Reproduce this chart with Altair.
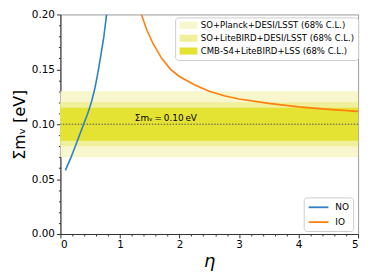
import altair as alt
import pandas as pd

# ---- data ----
no_eta = [0.083, 0.18, 0.25, 0.32, 0.39, 0.46, 0.52, 0.58, 0.63, 0.68, 0.73, 0.776]
no_sum = [0.058, 0.070, 0.080, 0.090, 0.100, 0.110, 0.120, 0.133, 0.147, 0.163, 0.180, 0.200]

io_eta = [1.36, 1.45, 1.55, 1.70, 1.85, 2.00, 2.25, 2.50, 2.75, 3.00, 3.50, 4.00, 4.50, 5.00]
io_sum = [0.200, 0.186, 0.174, 0.160, 0.150, 0.1435, 0.136, 0.130, 0.126, 0.123, 0.119, 0.1158, 0.1135, 0.1117]

band_labels = ["SO+Planck+DESI/LSST (68% C.L.)",
               "SO+LiteBIRD+DESI/LSST (68% C.L.)",
               "CMB-S4+LiteBIRD+LSS (68% C.L.)"]
band_lo = [0.07, 0.08, 0.085]
band_hi = [0.13, 0.12, 0.115]
band_colors = ["#f7f6cc", "#f0ef9a", "#e4e232"]

series_names = ["NO", "IO"]
series_colors = ["#2f80c4", "#ff7f0e"]

ref_sum = [0.10]
ref_label = ["Σmᵥ\u2009=\u20090.10\u2009eV"]
ref_label_eta = [1.25]

x_major = [0, 1, 2, 3, 4, 5]
x_minor = [0.2, 0.4, 0.6, 0.8, 1.2, 1.4, 1.6, 1.8, 2.2, 2.4, 2.6, 2.8,
           3.2, 3.4, 3.6, 3.8, 4.2, 4.4, 4.6, 4.8]
y_major = [0.0, 0.05, 0.10, 0.15, 0.20]
y_minor = [0.01, 0.02, 0.03, 0.04, 0.06, 0.07, 0.08, 0.09,
           0.11, 0.12, 0.13, 0.14, 0.16, 0.17, 0.18, 0.19]

# ---- tables ----
lines_df = pd.concat([
    pd.DataFrame({"eta": no_eta, "sum": no_sum, "series": "NO"}),
    pd.DataFrame({"eta": io_eta, "sum": io_sum, "series": "IO"}),
])
bands_df = pd.DataFrame({"label": band_labels, "lo": band_lo, "hi": band_hi})
ref_df = pd.DataFrame({"y": ref_sum, "x": ref_label_eta, "t": ref_label})

xs = alt.Scale(domain=[0, 5], nice=False, zero=False)
ys = alt.Scale(domain=[0, 0.2], nice=False, zero=False)

rects = alt.Chart(bands_df).mark_rect().encode(
    x=alt.XDatum(0, scale=xs, axis=None),
    x2=alt.X2Datum(5),
    y=alt.Y("lo:Q", scale=ys, axis=None),
    y2="hi:Q",
    fill=alt.Fill("label:N",
                  scale=alt.Scale(domain=band_labels, range=band_colors),
                  legend=alt.Legend(title=None, orient="none", legendX=116, legendY=3,
                                    symbolType="M-2,-0.8H2V0.8H-2Z", symbolSize=81,
                                    symbolOffset=5.5,
                                    symbolStrokeWidth=0, labelFontSize=8.6,
                                    rowPadding=3, padding=3.5, labelOffset=8,
                                    fillColor="rgba(255,255,255,0.85)",
                                    strokeColor="#cccccc", cornerRadius=3,
                                    labelLimit=300)),
)

rule = alt.Chart(ref_df).mark_rule(strokeDash=[1.5, 1.5], color="#555555", strokeWidth=1).encode(
    y=alt.Y("y:Q", scale=ys, axis=None)
)

text = alt.Chart(ref_df).mark_text(align="left", baseline="bottom", dy=-1, fontSize=9,
                                   font="DejaVu Sans", color="black").encode(
    x=alt.X("x:Q", scale=xs, axis=None),
    y=alt.Y("y:Q", scale=ys, axis=None),
    text="t:N",
)

lines = alt.Chart(lines_df).mark_line(clip=True, strokeWidth=1.6).encode(
    x=alt.X("eta:Q", scale=xs,
            axis=alt.Axis(values=x_major, format="d", title="η", titleFontStyle="italic",
                          titleFontSize=18, titleFontWeight="normal", labelFontSize=10.5,
                          tickSize=4, grid=False, orient="bottom", labelPadding=2,
                          titlePadding=2)),
    y=alt.Y("sum:Q", scale=ys,
            axis=alt.Axis(values=y_major, format=".2f", title="Σmᵥ [eV]",
                          titleFontSize=16, titleFontWeight="normal", labelFontSize=10.5,
                          tickSize=4, grid=False, orient="left", labelPadding=2,
                          titlePadding=4)),
    stroke=alt.Stroke("series:N",
                      scale=alt.Scale(domain=series_names, range=series_colors),
                      legend=alt.Legend(title=None, orient="none", legendX=246, legendY=185,
                                        symbolType="M-2,0H2", symbolSize=100,
                                        symbolOffset=5,
                                        symbolStrokeWidth=1.8, labelFontSize=9,
                                        rowPadding=4, padding=4, labelOffset=11,
                                        fillColor="rgba(255,255,255,0.85)",
                                        strokeColor="#cccccc", cornerRadius=3)),
    detail="series:N",
)

minor = alt.Chart(lines_df).mark_point(opacity=0).encode(
    x=alt.X("eta:Q", scale=xs,
            axis=alt.Axis(values=x_minor, labels=False, domain=False, tickSize=2,
                          grid=False, title=None, orient="bottom")),
    y=alt.Y("sum:Q", scale=ys,
            axis=alt.Axis(values=y_minor, labels=False, domain=False, tickSize=2,
                          grid=False, title=None, orient="left")),
)

chart = alt.layer(rects, rule, text, lines, minor).resolve_axis(
    x="independent", y="independent"
).properties(
    width=301, height=222,
    autosize=alt.AutoSizeParams(type="none"),
    padding={"left": 53, "top": 5, "right": 8, "bottom": 45},
).configure(
    font="DejaVu Sans"
).configure_view(
    stroke="#999999", strokeWidth=1
).configure_axis(
    domainColor="#333333", tickColor="#333333", labelColor="black", titleColor="black",
    labelFont="DejaVu Sans", titleFont="DejaVu Sans"
).configure_legend(
    labelFont="DejaVu Sans", labelColor="black"
)

chart.save("out.html", embed_options={"renderer": "svg", "actions": False})
